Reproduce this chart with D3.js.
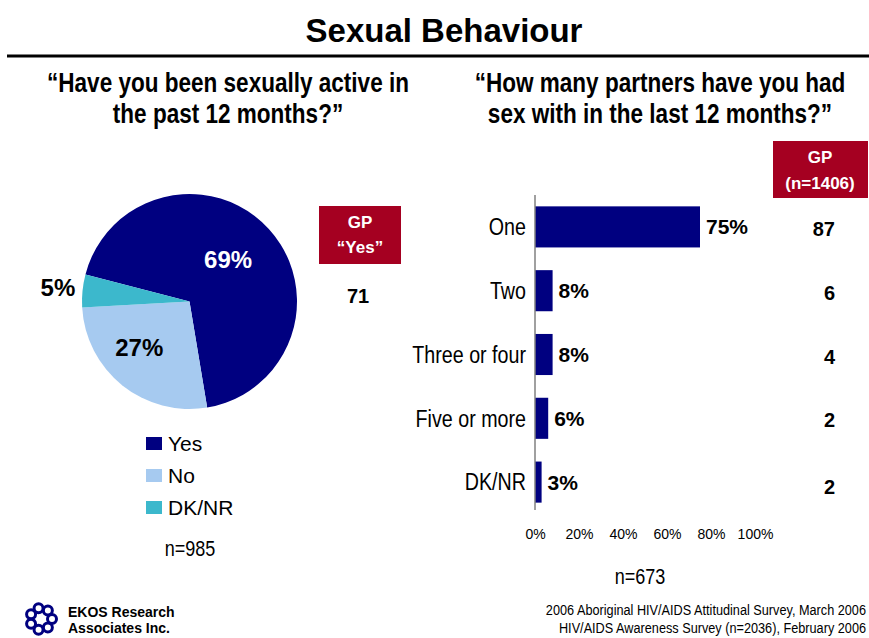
<!DOCTYPE html>
<html><head><meta charset="utf-8">
<script src="https://cdn.jsdelivr.net/npm/d3@7"></script>
<style>
body{margin:0;background:#fff;}
svg{display:block;}
text{font-family:"Liberation Sans",Arial,sans-serif;}
</style></head>
<body>
<script>
// ---- data ----
const pieCategories = ["Yes", "No", "DK/NR"];
const pieValues = [69, 27, 5];
const pieLabels = ["69%", "27%", "5%"];
const gpYes = "71";
const pieN = "n=985";

const barCategories = ["One", "Two", "Three or four", "Five or more", "DK/NR"];
const barValues = [75, 8, 8, 6, 3];
const gpValues = [87, 6, 4, 2, 2];
const xTicks = [0, 20, 40, 60, 80, 100];
const barN = "n=673";

const W = 869, H = 638;
const svg = d3.select("body").append("svg").attr("width", W).attr("height", H);

// condensed (Arial Narrow-like) text via horizontal scaling
function narrow(x, y, str, size, opts = {}) {
  return svg.append("text")
    .attr("transform", `translate(${x},${y}) scale(0.82,1)`)
    .attr("text-anchor", opts.anchor || "start")
    .attr("dominant-baseline", opts.baseline || "auto")
    .attr("font-size", size)
    .attr("font-weight", opts.weight || "normal")
    .attr("fill", opts.fill || "#000")
    .text(str);
}

// title
svg.append("text").attr("x", 444).attr("y", 42).attr("text-anchor","middle")
  .attr("font-size", 33).attr("font-weight","bold").text("Sexual Behaviour");
svg.append("line").attr("x1", 7).attr("x2", 869).attr("y1", 56).attr("y2", 56)
  .attr("stroke","#000").attr("stroke-width", 3);

// subtitles
const sub = [
  {x:228, lines:["\u201CHave you been sexually active in","the past 12 months?\u201D"]},
  {x:660, lines:["\u201CHow many partners have you had","sex with in the last 12 months?\u201D"]}
];
sub.forEach(s => s.lines.forEach((l,i) => {
  narrow(s.x, 92 + i*31, l, 27.5, {anchor:"middle", weight:"bold"});
}));

// ---- pie ----
const pieColors = d3.scaleOrdinal().domain(pieCategories).range(["#000080","#A6CAF0","#3CB8CC"]);
const cx = 189.5, cy = 301.5, r = 107.5;
const start = -75.4 * Math.PI / 180;
const pie = d3.pie().sort(null).startAngle(start).endAngle(start + 2*Math.PI);
const arcs = pie(pieValues);
const arc = d3.arc().innerRadius(0).outerRadius(r);
const gPie = svg.append("g").attr("transform", `translate(${cx},${cy})`);
gPie.selectAll("path").data(arcs).join("path")
  .attr("d", arc).attr("fill", (d,i) => pieColors(pieCategories[i]));

const labelArcIn = d3.arc().innerRadius(r*0.6).outerRadius(r*0.6);
const labelArcOut = d3.arc().innerRadius(r*1.23).outerRadius(r*1.23);
const nudges = [[-9, 2], [-10, -4], [0, -1]];
arcs.forEach((d,i) => {
  const p = (i === 2 ? labelArcOut : labelArcIn).centroid(d);
  gPie.append("text").attr("x", p[0] + nudges[i][0]).attr("y", p[1] + nudges[i][1])
    .attr("text-anchor","middle").attr("dominant-baseline","central")
    .attr("font-size", 24).attr("font-weight","bold")
    .attr("fill", i === 0 ? "#fff" : "#000").text(pieLabels[i]);
});

// GP Yes box
svg.append("rect").attr("x", 319).attr("y", 206).attr("width", 82).attr("height", 58).attr("fill","#A50021");
svg.append("text").attr("x", 360).attr("y", 228).attr("text-anchor","middle")
  .attr("font-size", 17).attr("font-weight","bold").attr("fill","#fff").text("GP");
svg.append("text").attr("x", 360).attr("y", 253).attr("text-anchor","middle")
  .attr("font-size", 17).attr("font-weight","bold").attr("fill","#fff").text("\u201CYes\u201D");
svg.append("text").attr("x", 358).attr("y", 303).attr("text-anchor","middle")
  .attr("font-size", 20).attr("font-weight","bold").text(gpYes);

// legend
pieCategories.forEach((c,i) => {
  const y = 437 + i*32;
  svg.append("rect").attr("x", 146).attr("y", y).attr("width", 16).attr("height", 13).attr("fill", pieColors(c));
  svg.append("text").attr("x", 168).attr("y", y+14)
    .attr("font-size", 21).text(c);
});
narrow(190, 556, pieN, 22, {anchor:"middle"});

// ---- bars ----
const x = d3.scaleLinear().domain([0,100]).range([535, 755]);
const y = d3.scaleBand().domain(barCategories).range([195, 514]).paddingInner(0.356).paddingOuter(0.178);

svg.append("g").selectAll("rect").data(barValues).join("rect")
  .attr("x", x(0)).attr("y", (d,i) => y(barCategories[i]))
  .attr("width", d => x(d) - x(0)).attr("height", y.bandwidth()).attr("fill","#000080");

svg.append("line").attr("x1", x(0)).attr("x2", x(0)).attr("y1", 195).attr("y2", 510)
  .attr("stroke","#808080").attr("stroke-width", 1.5);

barValues.forEach((v,i) => {
  const cyb = y(barCategories[i]) + y.bandwidth()/2;
  svg.append("text").attr("x", x(v) + 6).attr("y", cyb)
    .attr("dominant-baseline","central").attr("font-size", 21).attr("font-weight","bold").text(v + "%");
  narrow(526, cyb, barCategories[i], 24, {anchor:"end", baseline:"central"});
  svg.append("text").attr("x", 835).attr("y", cyb + (i===4?5:2))
    .attr("text-anchor","end").attr("dominant-baseline","central").attr("font-size", 20).attr("font-weight","bold").text(gpValues[i]);
});

const axis = d3.axisBottom(x).tickValues(xTicks).tickFormat(d => d + "%").tickSize(0).tickPadding(0);
const gx = svg.append("g").attr("transform", "translate(0,529)").call(axis);
gx.select(".domain").remove();
gx.selectAll("text").attr("font-size", 14).attr("fill","#000")
  .attr("font-family","Liberation Sans, Arial, sans-serif");

narrow(640, 584, barN, 22, {anchor:"middle"});

// GP n=1406 box
svg.append("rect").attr("x", 773).attr("y", 141).attr("width", 95).attr("height", 57).attr("fill","#A50021");
svg.append("text").attr("x", 820).attr("y", 163).attr("text-anchor","middle")
  .attr("font-size", 17).attr("font-weight","bold").attr("fill","#fff").text("GP");
svg.append("text").attr("x", 820).attr("y", 189).attr("text-anchor","middle")
  .attr("font-size", 17).attr("font-weight","bold").attr("fill","#fff").text("(n=1406)");

// footer
const logo = svg.append("g").attr("transform","translate(41,619)");
d3.range(7).forEach(k => {
  const a = k * 2*Math.PI/7;
  logo.append("circle").attr("cx", 11*Math.cos(a)).attr("cy", 11*Math.sin(a)).attr("r", 4.5)
    .attr("fill","none").attr("stroke","#000080").attr("stroke-width", 3);
});
svg.append("text").attr("x", 68).attr("y", 617).attr("font-size", 14).attr("font-weight","bold").text("EKOS Research");
svg.append("text").attr("x", 68).attr("y", 633).attr("font-size", 14).attr("font-weight","bold").text("Associates Inc.");
narrow(866, 615, "2006 Aboriginal HIV/AIDS Attitudinal Survey, March 2006", 15.5, {anchor:"end"});
narrow(866, 633, "HIV/AIDS Awareness Survey (n=2036), February 2006", 15.5, {anchor:"end"});
</script>
</body></html>
